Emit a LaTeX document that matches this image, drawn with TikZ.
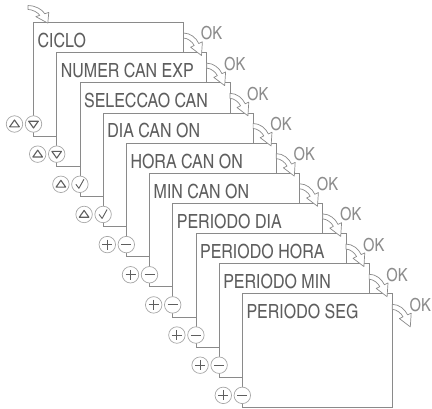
\documentclass[tikz,border=0pt]{standalone}
\usepackage{fontspec}
\setmainfont{texgyreheroscn-regular.otf}
\usetikzlibrary{calc}
\definecolor{lcdline}{HTML}{8A8A8A}
\definecolor{lcdtext}{HTML}{5E5E5E}
\definecolor{okgray}{HTML}{8C8C8C}
\tikzset{
  card/.style={draw=lcdline, fill=white, line width=0.8pt, rectangle, anchor=north west, minimum width=150pt, minimum height=113.5pt, inner sep=0pt, outer sep=0pt},
  cardtext/.style={anchor=west, inner sep=0pt, text=lcdtext, font=\fontsize{19.5}{19.5}\selectfont},
  oktext/.style={inner sep=0pt, text=okgray, font=\fontsize{18}{18}\selectfont},
  btn/.style={draw=lcdline!75, fill=white, circle, minimum size=16.5pt, inner sep=0pt, line width=0.7pt},
  symb/.style={draw=lcdtext, line width=1.1pt, line join=round},
  btnup/.style={btn, path picture={\draw[symb] ([shift={(-4.8,2.8)}]path picture bounding box.center) -- ++(9.6,0) -- ++(-4.8,-6.8) -- cycle;}},
  btndown/.style={btn, path picture={\draw[symb] ([shift={(-4.8,-2.8)}]path picture bounding box.center) -- ++(9.6,0) -- ++(-4.8,6.8) -- cycle;}},
  btncheck/.style={btn, path picture={\draw[symb, line width=0.9pt] ([shift={(-4,0)}]path picture bounding box.center) -- ++(3,4) -- ++(5,-9);}},
  btnplus/.style={btn, path picture={\draw[symb] ([shift={(-5,0)}]path picture bounding box.center) -- ++(10,0) ([shift={(0,-5)}]path picture bounding box.center) -- ++(0,10);}},
  btnminus/.style={btn, path picture={\draw[symb] ([shift={(-5,0)}]path picture bounding box.center) -- ++(10,0);}},
  okarrow/.pic={\draw[draw=lcdline, fill=white, line width=0.7pt, line join=round] (0,-2.5) .. controls (7,-2.5) and (12.8,2.5) .. (15.3,8) -- (18.9,6.3) -- (18,20) -- (7.1,11.7) -- (10.7,10) .. controls (9.1,6.4) and (4,2.5) .. (0,2.5) -- cycle;}
}
\begin{document}
\begin{tikzpicture}[x=1pt,y=-1pt]
  \useasboundingbox (0,0) rectangle (432,408);
  \node[card] (c0) at (33.5,22.5) {};
  \node[cardtext] (t0) at ($(c0.north west)+(4,18)$) {CICLO};
  \node[card] (c1) at (56.7,52.65) {};
  \node[cardtext] (t1) at ($(c1.north west)+(4,18)$) {NUMER CAN EXP};
  \node[card] (c2) at (79.9,82.8) {};
  \node[cardtext] (t2) at ($(c2.north west)+(4,18)$) {SELECCAO CAN};
  \node[card] (c3) at (103.1,112.95) {};
  \node[cardtext] (t3) at ($(c3.north west)+(4,18)$) {DIA CAN ON};
  \node[card] (c4) at (126.3,143.1) {};
  \node[cardtext] (t4) at ($(c4.north west)+(4,18)$) {HORA CAN ON};
  \node[card] (c5) at (149.5,173.25) {};
  \node[cardtext] (t5) at ($(c5.north west)+(4,18)$) {MIN CAN ON};
  \node[card] (c6) at (172.7,203.4) {};
  \node[cardtext] (t6) at ($(c6.north west)+(4,18)$) {PERIODO DIA};
  \node[card] (c7) at (195.9,233.55) {};
  \node[cardtext] (t7) at ($(c7.north west)+(4,18)$) {PERIODO HORA};
  \node[card] (c8) at (219.1,263.7) {};
  \node[cardtext] (t8) at ($(c8.north west)+(4,18)$) {PERIODO MIN};
  \node[card] (c9) at (242.3,293.85) {};
  \node[cardtext] (t9) at ($(c9.north west)+(4,18)$) {PERIODO SEG};

  \node[btnup] (bl0) at ($(c0.south west)+(-19,-12)$) {};
  \node[btndown] (br0) at ($(c0.south west)+(0,-12)$) {};
  \node[btnup] (bl1) at ($(c1.south west)+(-19,-12)$) {};
  \node[btndown] (br1) at ($(c1.south west)+(0,-12)$) {};
  \node[btnup] (bl2) at ($(c2.south west)+(-19,-12)$) {};
  \node[btncheck] (br2) at ($(c2.south west)+(0,-12)$) {};
  \node[btnup] (bl3) at ($(c3.south west)+(-19,-12)$) {};
  \node[btncheck] (br3) at ($(c3.south west)+(0,-12)$) {};
  \node[btnplus] (bl4) at ($(c4.south west)+(-19,-12)$) {};
  \node[btnminus] (br4) at ($(c4.south west)+(0,-12)$) {};
  \node[btnplus] (bl5) at ($(c5.south west)+(-19,-12)$) {};
  \node[btnminus] (br5) at ($(c5.south west)+(0,-12)$) {};
  \node[btnplus] (bl6) at ($(c6.south west)+(-19,-12)$) {};
  \node[btnminus] (br6) at ($(c6.south west)+(0,-12)$) {};
  \node[btnplus] (bl7) at ($(c7.south west)+(-19,-12)$) {};
  \node[btnminus] (br7) at ($(c7.south west)+(0,-12)$) {};
  \node[btnplus] (bl8) at ($(c8.south west)+(-19,-12)$) {};
  \node[btnminus] (br8) at ($(c8.south west)+(0,-12)$) {};
  \node[btnplus] (bl9) at ($(c9.south west)+(-19,-12)$) {};
  \node[btnminus] (br9) at ($(c9.south west)+(0,-12)$) {};

  \pic[xscale=1.1,yscale=0.78] at ($(c0.north west)+(-5.5,-15)$) {okarrow};
  \pic at ($(c0.north east)+(0,13)$) {okarrow};
  \pic at ($(c1.north east)+(0,13)$) {okarrow};
  \pic at ($(c2.north east)+(0,13)$) {okarrow};
  \pic at ($(c3.north east)+(0,13)$) {okarrow};
  \pic at ($(c4.north east)+(0,13)$) {okarrow};
  \pic at ($(c5.north east)+(0,13)$) {okarrow};
  \pic at ($(c6.north east)+(0,13)$) {okarrow};
  \pic at ($(c7.north east)+(0,13)$) {okarrow};
  \pic at ($(c8.north east)+(0,13)$) {okarrow};
  \pic at ($(c9.north east)+(0,13)$) {okarrow};
  \node[oktext] (ok0) at ($(c0.north east)+(28,11)$) {OK};
  \node[oktext] (ok1) at ($(c1.north east)+(28,11)$) {OK};
  \node[oktext] (ok2) at ($(c2.north east)+(28,11)$) {OK};
  \node[oktext] (ok3) at ($(c3.north east)+(28,11)$) {OK};
  \node[oktext] (ok4) at ($(c4.north east)+(28,11)$) {OK};
  \node[oktext] (ok5) at ($(c5.north east)+(28,11)$) {OK};
  \node[oktext] (ok6) at ($(c6.north east)+(28,11)$) {OK};
  \node[oktext] (ok7) at ($(c7.north east)+(28,11)$) {OK};
  \node[oktext] (ok8) at ($(c8.north east)+(28,11)$) {OK};
  \node[oktext] (ok9) at ($(c9.north east)+(28,11)$) {OK};
\end{tikzpicture}
\end{document}
